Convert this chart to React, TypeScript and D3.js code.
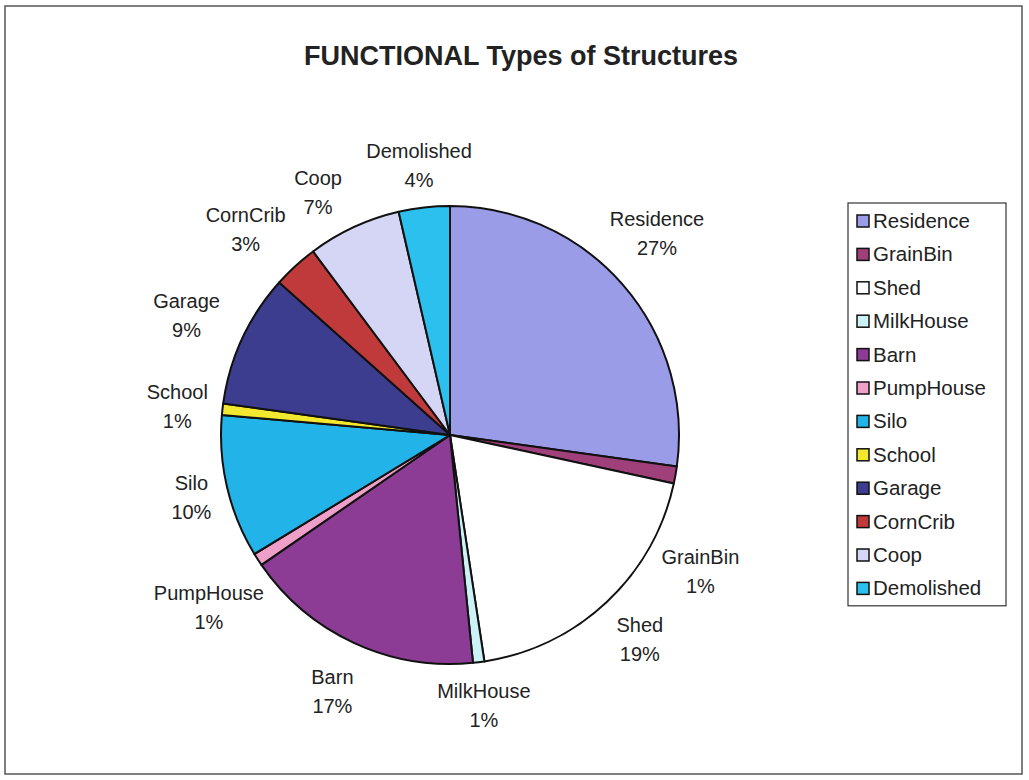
import React from "react";
import * as d3 from "d3";

const categories = ["Residence","GrainBin","Shed","MilkHouse","Barn","PumpHouse","Silo","School","Garage","CornCrib","Coop","Demolished"];
const shares = [27.2, 1.2, 19.2, 0.8, 17.0, 0.9, 10.1, 0.8, 9.4, 3.2, 6.6, 3.6];
const colors = ["#9A9CE8","#A0407A","#FFFFFF","#CCF2F5","#8C3C94","#F0A0C8","#22B4E8","#F2E830","#3D3D8F","#C0393B","#D5D5F5","#2CC0EE"];
const title = "FUNCTIONAL Types of Structures";

// layout constants
const W = 1029, H = 780;
const CX = 450, CY = 435, R = 229;
const FONT = "Arial, 'Liberation Sans', sans-serif";
const LABEL_SIZE = 20;
const LEGEND_SIZE = 20.5;
const LABEL_GAP = 16;
// [angle shift in degrees, extra distance in px] for labels placed like the original
const labelAdjust: Record<string, [number, number]> = {
  Residence: [-3.5, 4],
  GrainBin: [18, -4],
  Garage: [0, 10],
  CornCrib: [-2, 6],
  Coop: [-3.5, 0],
  Shed: [0, -2],
  MilkHouse: [0, -4],
  Barn: [0, 3],
  PumpHouse: [-2.3, 0],
  School: [0, -2],
};

function textWidth(s: string, size: number) {
  let t = 0;
  for (const ch of s) {
    if ("il.".includes(ch)) t += 0.222;
    else if ("fjrt".includes(ch)) t += 0.3;
    else if ("mM".includes(ch)) t += 0.833;
    else if ("%".includes(ch)) t += 0.889;
    else if (ch >= "A" && ch <= "Z") t += 0.68;
    else t += 0.556;
  }
  return t * size;
}

export default function App() {
  const total = d3.sum(shares);
  const data = categories.map((c, i) => ({ name: c, value: shares[i], color: colors[i] }));
  const pie = d3.pie<any>().value((d: any) => d.value).sort(null);
  const arcs = pie(data);
  const arcGen = d3.arc<any>().innerRadius(0).outerRadius(R);

  const lineH = LABEL_SIZE * 1.45;
  const labels = arcs.map((a) => {
    const pct = Math.round((a.data.value / total) * 100) + "%";
    const hw = Math.max(textWidth(a.data.name, LABEL_SIZE), textWidth(pct, LABEL_SIZE)) / 2;
    const hh = lineH;
    const adj = labelAdjust[a.data.name] || [0, 0];
    const ang = (a.startAngle + a.endAngle) / 2 + (adj[0] * Math.PI) / 180;
    const s = Math.sin(ang), c = -Math.cos(ang);
    const t = Math.min(Math.abs(s) > 1e-6 ? hw / Math.abs(s) : 1e9, Math.abs(c) > 1e-6 ? hh / Math.abs(c) : 1e9);
    const dist = R + LABEL_GAP + t + adj[1];
    return { name: a.data.name, pct, x: CX + dist * s, y: CY + dist * c };
  });

  const legendX = 848, legendY = 203, legendW = 158, rowH = 33.4;
  const legendH = rowH * categories.length + 2;

  return (
    <svg width={W} height={H} style={{ position: "absolute", left: 0, top: 0, background: "#fff" }} fontFamily={FONT}>
      <rect x={5} y={6} width={1017} height={768} fill="#fff" stroke="#555" strokeWidth={1.5} />
      <text x={521} y={65} textAnchor="middle" fontSize={27} fontWeight="bold" fill="#222">{title}</text>
      <g>
        {arcs.map((a, i) => (
          <path key={i} d={arcGen(a) as string} transform={`translate(${CX},${CY})`} fill={a.data.color} stroke="#111" strokeWidth={2} strokeLinejoin="round" />
        ))}
      </g>
      <g fontSize={LABEL_SIZE} fill="#222" textAnchor="middle">
        {labels.map((l, i) => (
          <text key={i} x={l.x} y={l.y}>
            <tspan x={l.x} dy={-5}>{l.name}</tspan>
            <tspan x={l.x} dy={lineH}>{l.pct}</tspan>
          </text>
        ))}
      </g>
      <g>
        <rect x={legendX} y={legendY} width={legendW} height={legendH} fill="#fff" stroke="#333" strokeWidth={1.2} />
        {categories.map((c, i) => {
          const cy = legendY + 18 + i * rowH;
          return (
            <g key={c}>
              <rect x={legendX + 9} y={cy - 6} width={12} height={12} fill={colors[i]} stroke="#111" strokeWidth={1.5} />
              <text x={legendX + 25} y={cy + 7} fontSize={LEGEND_SIZE} fill="#222">{c}</text>
            </g>
          );
        })}
      </g>
    </svg>
  );
}
